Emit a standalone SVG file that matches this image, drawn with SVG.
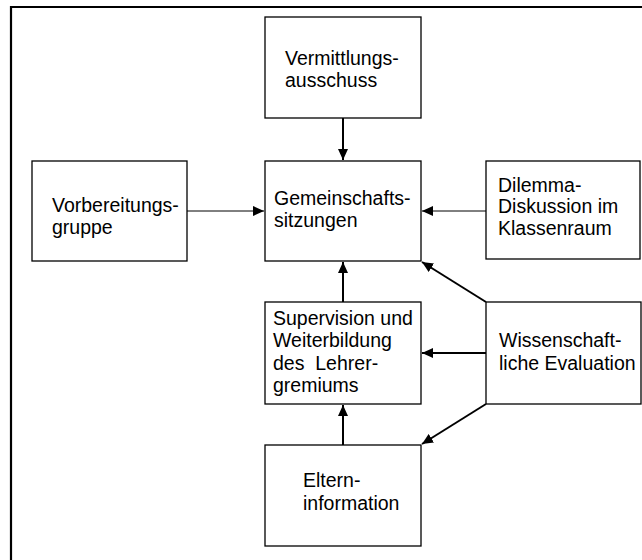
<svg xmlns="http://www.w3.org/2000/svg" width="642" height="560" viewBox="0 0 642 560">
<style>
.box{fill:#fff;stroke:#000;stroke-width:1.3}
.t{font-family:"Liberation Sans",Arial,sans-serif;font-size:19.5px;fill:#000;white-space:pre}
.thick{stroke:#000;stroke-width:2;fill:none}
.thin{stroke:#000;stroke-width:1;fill:none}
</style>
<defs>
<marker id="ah" viewBox="0 0 11 10" refX="11" refY="5" markerWidth="11" markerHeight="10" markerUnits="userSpaceOnUse" orient="auto">
<path d="M0,0 L11,5 L0,10 Z" fill="#000"/>
</marker>
</defs>
<rect width="642" height="560" fill="#fff"/>
<path d="M11,570 L11,7 L650,7" fill="none" stroke="#000" stroke-width="2.2"/>
<g id="vermittlung"><rect class="box" x="265" y="17" width="156" height="101"/><text class="t" x="285" y="65">Vermittlungs-</text><text class="t" x="285" y="87">ausschuss</text></g>
<g id="vorbereitung"><rect class="box" x="32" y="161" width="155" height="100"/><text class="t" x="52" y="212">Vorbereitungs-</text><text class="t" x="52" y="234">gruppe</text></g>
<g id="gemeinschaft"><rect class="box" x="265" y="161" width="156" height="100"/><text class="t" x="274" y="205">Gemeinschafts-</text><text class="t" x="274" y="227">sitzungen</text></g>
<g id="dilemma"><rect class="box" x="486" y="161" width="154" height="98"/><text class="t" x="498" y="192">Dilemma-</text><text class="t" x="498" y="213">Diskussion im</text><text class="t" x="498" y="235">Klassenraum</text></g>
<g id="supervision"><rect class="box" x="265" y="302" width="156" height="102"/><text class="t" x="273" y="325">Supervision und</text><text class="t" x="273" y="347">Weiterbildung</text><text class="t" x="273" y="370">des  Lehrer-</text><text class="t" x="273" y="392">gremiums</text></g>
<g id="wissenschaft"><rect class="box" x="486" y="302" width="155" height="102"/><text class="t" x="499" y="347">Wissenschaft-</text><text class="t" x="499" y="370">liche Evaluation</text></g>
<g id="eltern"><rect class="box" x="265" y="445" width="156" height="101"/><text class="t" x="303" y="487">Eltern-</text><text class="t" x="303" y="510">information</text></g>
<g id="connectors">
<line class="thick" x1="343" y1="118" x2="343" y2="160" marker-end="url(#ah)"/>
<line class="thin" x1="187" y1="211" x2="264" y2="211" marker-end="url(#ah)"/>
<line class="thin" x1="486" y1="211" x2="422" y2="211" marker-end="url(#ah)"/>
<line class="thick" x1="343" y1="302" x2="343" y2="262" marker-end="url(#ah)"/>
<line class="thick" x1="486" y1="302" x2="422" y2="262" marker-end="url(#ah)"/>
<line class="thick" x1="486" y1="353" x2="422" y2="353" marker-end="url(#ah)"/>
<line class="thick" x1="486" y1="404" x2="422" y2="444" marker-end="url(#ah)"/>
<line class="thick" x1="343" y1="445" x2="343" y2="405" marker-end="url(#ah)"/>
</g>
</svg>
